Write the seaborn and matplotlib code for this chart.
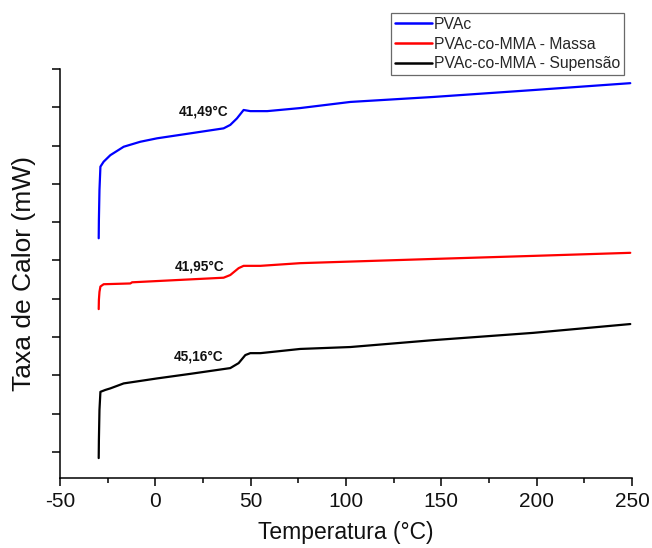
import matplotlib
matplotlib.use("Agg")
import matplotlib.pyplot as plt
import seaborn as sns
import pandas as pd
from matplotlib.ticker import MultipleLocator

# ---- data (y in arbitrary units, one unit per y tick) ----
pvac_T = [-29.7, -29.6, -29.3, -28.8, -27.1, -23.6, -16.6, -7.9, 0.9, 18.4, 35.8, 39.3,
          42.8, 46.3, 49.8, 58.7, 76.0, 102.3, 145.8, 198.2, 249.1]
pvac_Q = [5.58, 6.06, 6.84, 7.45, 7.58, 7.75, 7.97, 8.10, 8.19, 8.32, 8.45, 8.54,
          8.71, 8.93, 8.90, 8.90, 8.98, 9.14, 9.27, 9.45, 9.63]

massa_T = [-29.7, -29.6, -29.3, -28.8, -27.1, -13.1, -12.2, 35.8, 39.3, 43.7, 46.3,
           55.1, 76.0, 145.8, 198.2, 249.1]
massa_Q = [3.73, 3.97, 4.18, 4.32, 4.38, 4.40, 4.43, 4.55, 4.62, 4.80, 4.86,
           4.86, 4.93, 5.04, 5.12, 5.20]

susp_T = [-29.7, -29.6, -29.3, -28.8, -26.2, -23.6, -16.6, 0.9, 18.4, 39.3, 43.7,
          47.2, 49.8, 55.1, 76.0, 102.3, 145.8, 198.2, 249.1]
susp_Q = [-0.16, 0.31, 1.10, 1.57, 1.62, 1.66, 1.79, 1.92, 2.04, 2.19, 2.32,
          2.53, 2.58, 2.58, 2.69, 2.74, 2.92, 3.11, 3.34]

series_names = ["PVAc", "PVAc-co-MMA - Massa", "PVAc-co-MMA - Supensão"]
series_colors = ["#0000ff", "#ff0000", "#000000"]

tg_labels = ["41,49°C", "41,95°C", "45,16°C"]
tg_label_T = [25.4, 23.3, 22.5]
tg_label_Q = [8.9, 4.85, 2.5]

x_ticks = [-50, 0, 50, 100, 150, 200, 250]
y_ticks = list(range(0, 11))

# ---- build table ----
frames = []
for name, T, Q in zip(series_names, [pvac_T, massa_T, susp_T], [pvac_Q, massa_Q, susp_Q]):
    frames.append(pd.DataFrame({"T": T, "Q": Q, "serie": name}))
df = pd.concat(frames, ignore_index=True)

sns.set_theme(style="white")
plt.rcParams["font.family"] = ["Liberation Sans", "DejaVu Sans"]

fig = plt.figure(figsize=(6.52, 5.48), dpi=100)
ax = fig.add_axes([60 / 652, 1 - 478 / 548, 572 / 652, 409 / 548])

sns.lineplot(data=df, x="T", y="Q", hue="serie", palette=dict(zip(series_names, series_colors)),
             sort=False, linewidth=1.6, ax=ax, legend=True)
for ln in ax.get_lines():
    ln.set_solid_joinstyle("round")
    ln.set_solid_capstyle("round")

ax.set_xlim(-50, 250)
ax.set_ylim(-0.68, 10)
ax.set_xticks(x_ticks)
ax.set_xticklabels([str(t) for t in x_ticks])
ax.xaxis.set_minor_locator(MultipleLocator(25))
ax.set_yticks(y_ticks)
ax.set_yticklabels([])

for s in ["top", "right"]:
    ax.spines[s].set_visible(False)
for s in ["left", "bottom"]:
    ax.spines[s].set_color("black")
    ax.spines[s].set_linewidth(1.1)

ax.tick_params(axis="x", which="major", direction="out", length=6, width=1.1, color="black",
               labelsize=15, pad=4, bottom=True, labelcolor="#111111")
ax.tick_params(axis="x", which="minor", direction="out", length=3.5, width=1.1, color="black",
               bottom=True)
ax.tick_params(axis="y", which="major", direction="out", length=6, width=1.1, color="black",
               left=True)

ax.set_xlabel("Temperatura (°C)", fontsize=16.5, color="#111111")
ax.set_ylabel("Taxa de Calor (mW)", fontsize=19, color="#111111")
ax.xaxis.set_label_coords(0.5, -0.105)
ax.yaxis.set_label_coords(-0.042, 0.5)

for lab, tx, ty in zip(tg_labels, tg_label_T, tg_label_Q):
    ax.text(tx, ty, lab, fontsize=9.8, fontweight="bold", ha="center", va="center", color="#111111")

leg = ax.legend(loc="upper right", bbox_to_anchor=(624 / 652, 1 - 13 / 548),
                bbox_transform=fig.transFigure, fontsize=11.3, frameon=True, fancybox=False,
                handlelength=2.4, handletextpad=0.1, borderpad=0.25, labelspacing=0.3,
                borderaxespad=0, title=None)
leg.get_frame().set_edgecolor("#444444")
leg.get_frame().set_linewidth(0.9)
for line in leg.get_lines():
    line.set_linewidth(1.8)

ax.grid(False)
fig.savefig("out.png", dpi=100, facecolor="white")
